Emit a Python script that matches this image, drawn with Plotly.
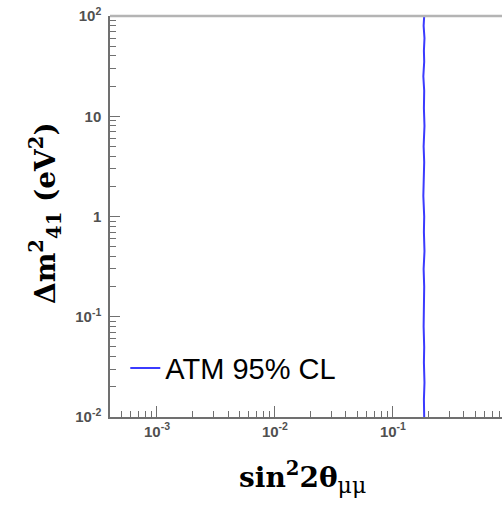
import plotly.graph_objects as go

# ATM 95% CL contour (sin^2 2theta_mumu vs dm^2_41)
atm_dm2 = [100, 80, 60, 45, 35, 25, 18, 12, 8, 5, 3.5, 2.5, 1.6, 1.0, 0.7,
           0.45, 0.3, 0.2, 0.13, 0.08, 0.05, 0.035, 0.022, 0.015, 0.01]
atm_sin2 = [0.184, 0.182, 0.185, 0.183, 0.184, 0.181, 0.184, 0.183, 0.185,
            0.182, 0.184, 0.183, 0.181, 0.184, 0.183, 0.185, 0.182, 0.184,
            0.183, 0.182, 0.184, 0.183, 0.185, 0.183, 0.184]

x_tickvals = [1e-3, 1e-2, 1e-1]
x_ticktext = ["10<sup>-3</sup>", "10<sup>-2</sup>", "10<sup>-1</sup>"]
y_tickvals = [1e-2, 1e-1, 1, 10, 100]
y_ticktext = ["10<sup>-2</sup>", "10<sup>-1</sup>", "1", "10", "10<sup>2</sup>"]

x_minor = [m * 10.0 ** e for e in (-4, -3, -2, -1) for m in range(2, 10)]
y_minor = [m * 10.0 ** e for e in (-2, -1, 0, 1) for m in range(2, 10)]

fig = go.Figure()
fig.add_trace(go.Scatter(
    x=atm_sin2, y=atm_dm2, mode="lines", name="ATM 95% CL",
    line=dict(color="#3b3bff", width=2),
))

axcol = "#707070"
tickfont = dict(family="Liberation Sans", size=15, color="#505050", weight="bold")

fig.update_layout(
    width=502, height=508,
    margin=dict(l=110, r=0, t=16, b=91),
    plot_bgcolor="white", paper_bgcolor="white",
    showlegend=True,
    legend=dict(x=0.039, y=0.122, xanchor="left", yanchor="middle",
                bgcolor="rgba(0,0,0,0)",
                font=dict(family="Liberation Sans", size=29, color="black")),
    xaxis=dict(type="log", range=[-3.398, -0.0757], showgrid=False,
               zeroline=False, showline=True, linecolor=axcol, linewidth=1.5,
               ticks="inside", ticklen=11, tickwidth=1.2, tickcolor=axcol,
               tickmode="array", tickvals=x_tickvals, ticktext=x_ticktext,
               tickfont=tickfont, ticklabeloverflow="allow",
               minor=dict(tickmode="array", tickvals=x_minor, ticks="inside",
                          ticklen=6, tickwidth=1.2, tickcolor=axcol, showgrid=False)),
    yaxis=dict(type="log", range=[-2, 2], showgrid=False,
               zeroline=False, showline=True, linecolor=axcol, linewidth=1.5,
               ticks="inside", ticklen=10, tickwidth=1.2, tickcolor=axcol,
               tickmode="array", tickvals=y_tickvals, ticktext=y_ticktext,
               tickfont=tickfont, ticklabelstandoff=4, ticklabeloverflow="allow",
               minor=dict(tickmode="array", tickvals=y_minor, ticks="inside",
                          ticklen=6, tickwidth=1.2, tickcolor=axcol, showgrid=False)),
    shapes=[dict(type="line", xref="paper", yref="paper", x0=0, x1=1, y0=1, y1=1,
                 line=dict(color="#b4b4b4", width=2.5))],
    annotations=[
        dict(text="sin<sup>2</sup>2θ<sub><span style='font-size:22px;font-weight:normal'>μμ</span></sub>",
             xref="paper", yref="paper",
             x=0.49, y=-0.152, xanchor="center", yanchor="middle", showarrow=False,
             font=dict(family="DejaVu Serif", size=28, color="black", weight="bold")),
        dict(text="Δm<sup>2</sup><sub>41</sub> (eV<sup>2</sup>)", xref="paper", yref="paper",
             x=-0.163, y=0.509, xanchor="center", yanchor="middle", showarrow=False,
             textangle=-90,
             font=dict(family="DejaVu Serif", size=28, color="black", weight="bold")),
    ],
)

fig.write_html(
    "out.html",
    config={"displayModeBar": False},
    post_script="document.body.style.margin='0';"
                "document.documentElement.style.overflow='hidden';",
)
